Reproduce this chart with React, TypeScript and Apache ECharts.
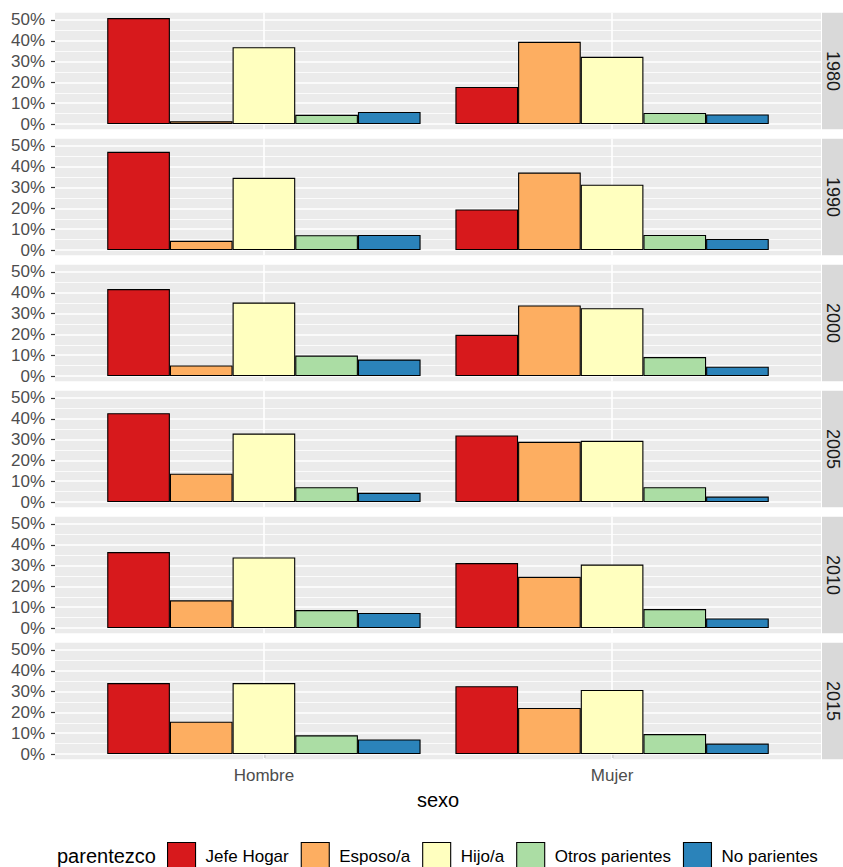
import React, { useEffect, useRef } from 'react';
import * as echarts from 'echarts';

// ---- data (percent within sexo, per census year) ----
const years = ['1980', '1990', '2000', '2005', '2010', '2015'];
const sexos = ['Hombre', 'Mujer'];
const parentezco = ['Jefe Hogar', 'Esposo/a', 'Hijo/a', 'Otros parientes', 'No parientes'];
// rows = years, columns = parentezco
const hombre = [
  [50.9, 1.3, 36.9, 4.4, 5.8],
  [47.2, 4.4, 34.7, 7.1, 7.2],
  [41.8, 5.1, 35.3, 9.8, 7.9],
  [42.7, 13.6, 32.9, 7.1, 4.4],
  [36.5, 13.3, 33.9, 8.6, 7.2],
  [34.1, 15.5, 34.1, 9.0, 7.0],
];
const mujer = [
  [17.8, 39.5, 32.3, 5.3, 4.6],
  [19.5, 37.2, 31.4, 7.2, 5.3],
  [19.8, 33.9, 32.6, 9.1, 4.5],
  [32.0, 28.9, 29.4, 7.1, 2.6],
  [31.2, 24.6, 30.5, 9.1, 4.6],
  [32.6, 22.1, 30.8, 9.6, 5.0],
];
const yTicks = [0, 10, 20, 30, 40, 50];
const yMinorTicks = [5, 15, 25, 35, 45];
const xPositions = [1, 2];

const palette = ['#D7191C', '#FDAE61', '#FFFFBF', '#ABDDA4', '#2B83BA'];

export default function App() {
  const ref = useRef<HTMLDivElement>(null);

  useEffect(() => {
    const chart = echarts.init(ref.current as HTMLDivElement, null, { renderer: 'svg' });
    const font = 'Liberation Sans, Arial, Helvetica, sans-serif';

    const allValues = [...hombre.flat(), ...mujer.flat()];
    const dataMax = Math.max(...allValues);
    const yMin = -0.05 * dataMax;
    const yMax = 1.05 * dataMax;
    const xMin = xPositions[0] - 0.6;
    const xMax = xPositions[xPositions.length - 1] + 0.6;

    const L = 55, W = 766, T0 = 12.8, H = 116.5, P = 126;
    const last = years.length - 1;

    const grids = years.map((_, i) => ({
      left: L, width: W, top: T0 + P * i, height: H,
      show: true, backgroundColor: '#EBEBEB', borderWidth: 0,
    }));

    const xAxes = years.map((_, i) => ({
      type: 'value', gridIndex: i, min: xMin, max: xMax,
      axisLine: { show: false },
      splitLine: { show: false },
      axisTick: { show: i === last, customValues: xPositions, length: 4, lineStyle: { color: '#333333', width: 1.2 } },
      axisLabel: {
        show: i === last, customValues: xPositions,
        formatter: (v: number) => sexos[Math.round(v) - 1] ?? '',
        color: '#4D4D4D', fontSize: 17, margin: 8, fontFamily: font,
      },
      name: i === last ? 'sexo' : '',
      nameLocation: 'middle', nameGap: 31,
      nameTextStyle: { fontSize: 20, color: '#000', fontFamily: font },
    }));

    const yAxes = years.map((_, i) => ({
      type: 'value', gridIndex: i, min: yMin, max: yMax,
      axisLine: { show: false },
      splitLine: { show: false },
      axisTick: { show: true, customValues: yTicks, length: 4, lineStyle: { color: '#333333', width: 1.2 } },
      axisLabel: {
        customValues: yTicks, formatter: (v: number) => `${v}%`,
        color: '#4D4D4D', fontSize: 17, margin: 10, fontFamily: font,
      },
    }));

    const series: any[] = [];
    years.forEach((_, i) => {
      series.push({
        type: 'line', xAxisIndex: i, yAxisIndex: i, data: [], silent: true,
        markLine: {
          silent: true, z: 1, symbol: ['none', 'none'], label: { show: false }, animation: false,
          emphasis: { disabled: true },
          data: [
            ...yMinorTicks.map((v) => ({ yAxis: v, lineStyle: { color: '#FFFFFF', width: 0.8, type: 'solid' } })),
            ...yTicks.map((v) => ({ yAxis: v, lineStyle: { color: '#FFFFFF', width: 1.6, type: 'solid' } })),
            ...xPositions.map((v) => ({ xAxis: v, lineStyle: { color: '#FFFFFF', width: 1.6, type: 'solid' } })),
          ],
        },
      });
      parentezco.forEach((p, j) => {
        series.push({
          type: 'bar', name: p, xAxisIndex: i, yAxisIndex: i, z: 3,
          barGap: '0%', barCategoryGap: '10%',
          data: sexos.map((_, k) => [xPositions[k], k === 0 ? hombre[i][j] : mujer[i][j]]),
          itemStyle: { color: palette[j], borderColor: '#000000', borderWidth: 1.1 },
          emphasis: { disabled: true },
        });
      });
    });

    const graphics: any[] = [];
    years.forEach((y, i) => {
      const top = T0 + P * i;
      graphics.push({
        type: 'rect', shape: { x: L + W + 1, y: top, width: 40, height: H },
        style: { fill: '#D9D9D9' }, silent: true,
      });
      graphics.push({
        type: 'text', x: L + W + 12, y: top + H / 2, rotation: -Math.PI / 2,
        style: { text: y, fontSize: 18, fill: '#1A1A1A', fontFamily: font, align: 'center', verticalAlign: 'middle' },
        silent: true,
      });
    });
    graphics.push({
      type: 'text', x: 57, y: 856,
      style: { text: 'parentezco', fontSize: 20, fill: '#000', fontFamily: font, align: 'left', verticalAlign: 'middle' },
      silent: true,
    });

    chart.setOption({
      animation: false,
      textStyle: { fontFamily: font },
      grid: grids,
      xAxis: xAxes,
      yAxis: yAxes,
      legend: {
        data: parentezco, left: 167, top: 842, orient: 'horizontal', padding: 0,
        itemWidth: 28, itemHeight: 28, itemGap: 12, icon: 'rect', selectedMode: false,
        itemStyle: { borderColor: '#000', borderWidth: 1.1 },
        textStyle: { fontSize: 17, color: '#000', fontFamily: font, padding: [0, 0, 0, 5] },
      },
      graphic: graphics,
      series,
    });

    return () => chart.dispose();
  }, []);

  return <div ref={ref} style={{ position: 'absolute', left: 0, top: 0, width: 843, height: 867 }} />;
}
